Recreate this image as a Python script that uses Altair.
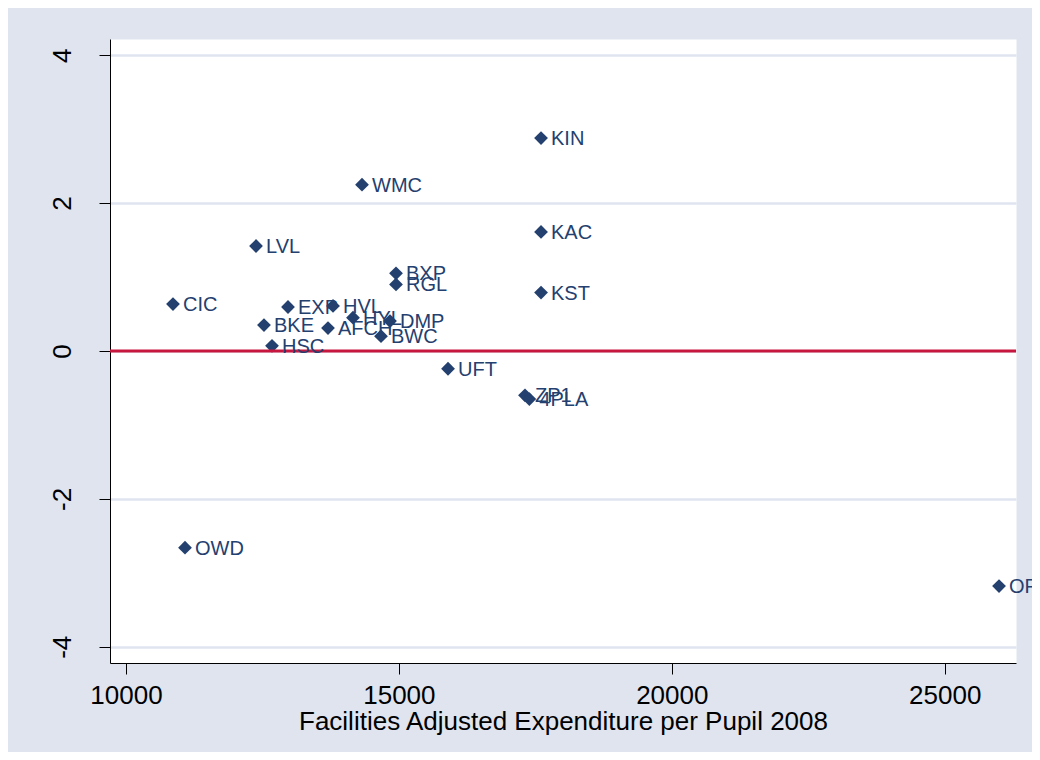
import altair as alt
import pandas as pd

# School codes, expenditure (x) and residual/score (y)
codes = ["KIN", "WMC", "LVL", "KAC", "BXP", "RGL", "KST", "CIC", "EXP", "HVL",
         "BKE", "AFCH", "HYL", "DMP", "BWC", "HSC", "UFT", "ZP1", "4PLA", "OWD", "OP"]
expend = [17604, 14324, 12382, 17604, 14947, 14947, 17604, 10861, 12968, 13793,
          12528, 13701, 14159, 14837, 14672, 12675, 15900, 17310, 17390, 11081, 25995]
score = [2.88, 2.25, 1.42, 1.61, 1.05, 0.90, 0.79, 0.635, 0.595, 0.61,
         0.35, 0.31, 0.45, 0.405, 0.20, 0.07, -0.24, -0.60, -0.65, -2.66, -3.18]

x_ticks = [10000, 15000, 20000, 25000]
y_ticks = [-4, -2, 0, 2, 4]
x_domain = [9707, 26306]
y_domain = [-4.22, 4.22]

NAVY = "#23406F"
RED = "#C8173F"
BG = "#DFE4EF"
FONT = "Liberation Sans"

df = pd.DataFrame({"code": codes, "x": expend, "y": score})
zero = pd.DataFrame({"y": [0]})

xenc = alt.X("x:Q", scale=alt.Scale(domain=x_domain, nice=False, zero=False),
             axis=alt.Axis(values=x_ticks, title="Facilities Adjusted Expenditure per Pupil 2008",
                           grid=False, labelExpr="'' + datum.value", labelFontSize=26,
                           titleFontSize=26, titleFontWeight="normal", tickSize=11,
                           labelPadding=8, titlePadding=0, domainColor="black",
                           tickColor="black", labelColor="black", titleColor="black",
                           labelFont=FONT, titleFont=FONT))
yenc = alt.Y("y:Q", scale=alt.Scale(domain=y_domain, nice=False, zero=False),
             axis=alt.Axis(values=y_ticks, title=None, grid=True, gridColor=BG,
                           gridWidth=2.5, labelAngle=270, labelAlign="center",
                           labelBaseline="bottom", labelExpr="'' + datum.value",
                           labelFontSize=26, tickSize=11, labelPadding=24,
                           domainColor="black", tickColor="black",
                           labelColor="black", labelFont=FONT))

rule = alt.Chart(zero).mark_rule(color=RED, strokeWidth=3).encode(y=alt.Y("y:Q"))

points = alt.Chart(df).mark_point(shape="diamond", filled=True, size=190,
                                  color=NAVY, opacity=1).encode(x=xenc, y=yenc)

labels = alt.Chart(df).mark_text(align="left", baseline="middle", dx=10, dy=1,
                                 fontSize=20, font=FONT, color=NAVY).encode(
    x="x:Q", y="y:Q", text="code:N")

chart = alt.layer(points, rule, labels).properties(
    width=906, height=624,
    background=BG,
    padding={"left": 102, "top": 31, "right": 16, "bottom": 89},
    autosize=alt.AutoSizeParams(type="none"),
).configure_view(fill="white", stroke="transparent")

chart.save("out.html", embed_options={"renderer": "svg", "actions": False})
